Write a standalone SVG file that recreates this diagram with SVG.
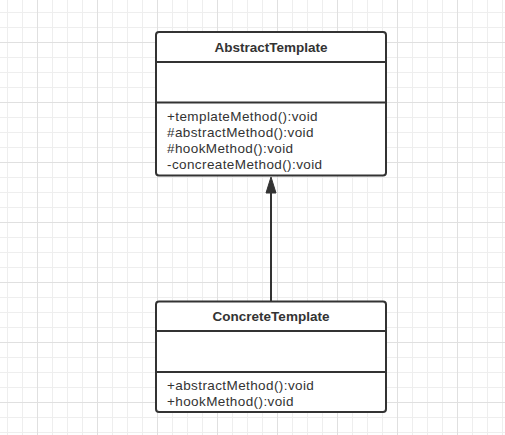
<svg xmlns="http://www.w3.org/2000/svg" width="505" height="435" viewBox="0 0 505 435">
<defs>
<pattern id="g" x="7" y="12" width="15" height="15" patternUnits="userSpaceOnUse">
<path d="M0.5 0V15M0 0.5H15" stroke="#eeeeee" stroke-width="1" fill="none"/>
</pattern>
<pattern id="G" x="37" y="42" width="60" height="60" patternUnits="userSpaceOnUse">
<path d="M0.5 0V60M0 0.5H60" stroke="#e0e0e0" stroke-width="1" fill="none"/>
</pattern>
</defs>
<style>
.box{fill:#ffffff;stroke:#333333;stroke-width:2}
.div{stroke:#333333;stroke-width:2}
.title{font-family:"Liberation Sans","Noto Sans",sans-serif;font-weight:bold;font-size:13.5px;fill:#333333;text-anchor:middle}
.m{font-family:"Liberation Sans","Noto Sans",sans-serif;font-size:13.5px;fill:#333333;letter-spacing:0.4px}
.edge{stroke:#333333;stroke-width:2;fill:none}
.head{fill:#333333;stroke:#333333;stroke-width:1}
</style>
<rect width="505" height="435" fill="#ffffff"/>
<rect width="505" height="435" fill="url(#g)"/>
<rect width="505" height="435" fill="url(#G)"/>
<g id="connectors">
<line class="edge" x1="271" y1="301" x2="271" y2="190"/>
<polygon class="head" points="271,177 266,193 276,193"/>
</g>
<g id="AbstractTemplate">
<rect class="box" x="156" y="32" width="230" height="143.5" rx="3"/>
<line class="div" x1="156" y1="62" x2="386" y2="62"/>
<line class="div" x1="156" y1="102.5" x2="386" y2="102.5"/>
<text class="title" x="271" y="52">AbstractTemplate</text>
<text class="m" x="167" y="121">+templateMethod():void</text>
<text class="m" x="167" y="137">#abstractMethod():void</text>
<text class="m" x="167" y="153">#hookMethod():void</text>
<text class="m" x="167" y="169">-concreateMethod():void</text>
</g>
<g id="ConcreteTemplate">
<rect class="box" x="156" y="301.5" width="230" height="110.5" rx="3"/>
<line class="div" x1="156" y1="331" x2="386" y2="331"/>
<line class="div" x1="156" y1="372" x2="386" y2="372"/>
<text class="title" x="271" y="321">ConcreteTemplate</text>
<text class="m" x="167" y="390">+abstractMethod():void</text>
<text class="m" x="167" y="406">+hookMethod():void</text>
</g>
</svg>
